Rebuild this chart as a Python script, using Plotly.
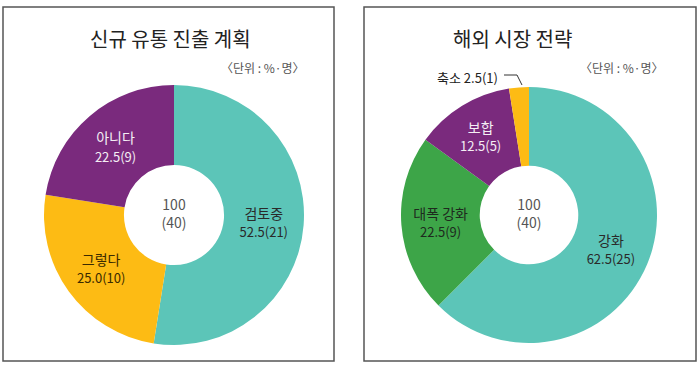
import plotly.graph_objects as go

# ---- data ----
left_title = "신규 유통 진출 계획"
left_labels = ["검토중", "그렇다", "아니다"]
left_pct = [52.5, 25.0, 22.5]
left_cnt = [21, 10, 9]
left_total = (100, 40)

right_title = "해외 시장 전략"
right_labels = ["강화", "대폭 강화", "보합", "축소"]
right_pct = [62.5, 22.5, 12.5, 2.5]
right_cnt = [25, 9, 5, 1]
right_total = (100, 40)

unit_text = "〈단위 : %·명〉"

# ---- style ----
TEAL = "#5CC5B8"
YELLOW = "#FDBB14"
PURPLE = "#7A2A7D"
GREEN = "#3DA548"
FONT = "Noto Sans CJK KR"
W, H = 700, 368
TPL = "%{label}<br><span style='font-size:13px'>%{customdata}</span>"


def px_dom(x0, x1, y0, y1):
    return dict(x=[x0 / W, x1 / W], y=[1 - y1 / H, 1 - y0 / H])


def fmt(p, n):
    return [f"{a:.1f}({b})" for a, b in zip(p, n)]


fig = go.Figure()

fig.add_trace(go.Pie(
    labels=left_labels, values=left_pct, customdata=fmt(left_pct, left_cnt),
    sort=False, direction="clockwise", rotation=0, hole=0.385,
    marker=dict(colors=[TEAL, YELLOW, PURPLE], line=dict(width=0)),
    texttemplate=TPL, textposition="inside",
    insidetextorientation="horizontal",
    textfont=dict(family=FONT, size=14, color=["#2a2a2a", "#3a2a00", "#f4eef4"]),
    title=dict(text=f"{left_total[0]}<br>({left_total[1]})", position="middle center",
               font=dict(family=FONT, size=14, color="#555555")),
    domain=px_dom(44, 304, 85, 345), showlegend=False, hoverinfo="label+value",
))

right_text_tpl = [TPL] * 3 + [""]
fig.add_trace(go.Pie(
    labels=right_labels, values=right_pct, customdata=fmt(right_pct, right_cnt),
    sort=False, direction="clockwise", rotation=0, hole=0.385,
    marker=dict(colors=[TEAL, GREEN, PURPLE, YELLOW], line=dict(width=0)),
    texttemplate=right_text_tpl, textposition="inside",
    insidetextorientation="horizontal",
    textfont=dict(family=FONT, size=14, color=["#2a2a2a", "#1e2a1e", "#f4eef4", "#333333"]),
    title=dict(text=f"{right_total[0]}<br>({right_total[1]})", position="middle center",
               font=dict(family=FONT, size=14, color="#555555")),
    domain=px_dom(401, 657, 87, 343), showlegend=False, hoverinfo="label+value",
))

shapes = [
    dict(type="rect", xref="paper", yref="paper", x0=3 / W, x1=334 / W, y0=1 - 361 / H, y1=1 - 7 / H,
         line=dict(color="#555555", width=1.5)),
    dict(type="rect", xref="paper", yref="paper", x0=364 / W, x1=696 / W, y0=1 - 361 / H, y1=1 - 7 / H,
         line=dict(color="#555555", width=1.5)),
    dict(type="path", xref="paper", yref="paper",
         path=f"M {504 / W} {1 - 75 / H} L {517 / W} {1 - 75 / H} L {522 / W} {1 - 85 / H}",
         line=dict(color="#333333", width=1)),
]

annotations = [
    dict(text=left_title, x=170 / W, y=1 - 38 / H, xref="paper", yref="paper", showarrow=False,
         font=dict(family=FONT, size=20, color="#222222"), xanchor="center", yanchor="middle"),
    dict(text=right_title, x=512 / W, y=1 - 38 / H, xref="paper", yref="paper", showarrow=False,
         font=dict(family=FONT, size=20, color="#222222"), xanchor="center", yanchor="middle"),
    dict(text=unit_text, x=307 / W, y=1 - 68 / H, xref="paper", yref="paper", showarrow=False,
         font=dict(family=FONT, size=12, color="#555555"), xanchor="right", yanchor="middle"),
    dict(text=unit_text, x=666 / W, y=1 - 68 / H, xref="paper", yref="paper", showarrow=False,
         font=dict(family=FONT, size=12, color="#555555"), xanchor="right", yanchor="middle"),
    dict(text=f"{right_labels[3]} {right_pct[3]:.1f}({right_cnt[3]})", x=500 / W, y=1 - 77 / H,
         xref="paper", yref="paper", showarrow=False,
         font=dict(family=FONT, size=13, color="#222222"), xanchor="right", yanchor="middle"),
]

fig.update_layout(
    width=W, height=H, margin=dict(l=0, r=0, t=0, b=0),
    paper_bgcolor="white", plot_bgcolor="white",
    shapes=shapes, annotations=annotations,
    font=dict(family=FONT),
)

fig.write_html("out.html", config={"displayModeBar": False},
               post_script="document.body.style.margin='0';document.body.style.overflow='hidden';")
